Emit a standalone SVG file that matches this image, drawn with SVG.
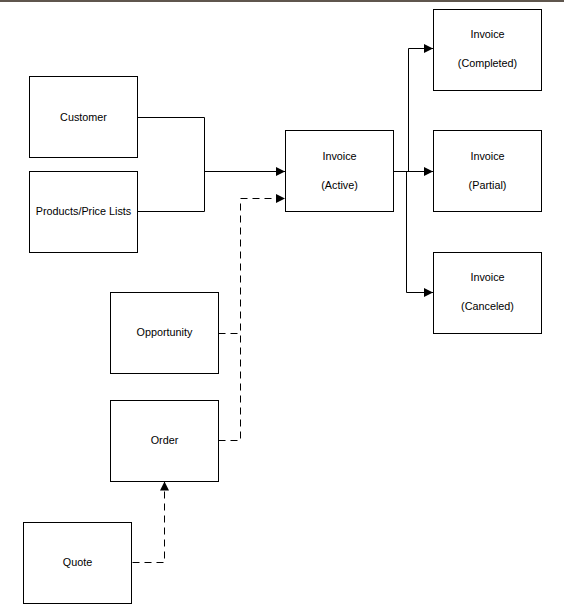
<svg xmlns="http://www.w3.org/2000/svg" width="564" height="615" viewBox="0 0 564 615">
<style>
.box{fill:#fff;stroke:#000;stroke-width:1}
.t{font-family:"Liberation Sans",Arial,sans-serif;font-size:10.8px;fill:#000;text-anchor:middle}
.c{fill:none;stroke:#000;stroke-width:1}
.d{stroke-dasharray:7,5}
</style>
<defs>
<marker id="ah" markerWidth="9" markerHeight="9" refX="9" refY="4.5" orient="auto" markerUnits="userSpaceOnUse">
<path d="M0,0 L9,4.5 L0,9 Z" fill="#000"/>
</marker>
</defs>
<rect width="564" height="615" fill="#fff"/>
<line x1="0" y1="1" x2="564" y2="1" stroke="#2a1e12" stroke-width="1.6"/>
<g id="connectors">
<polyline class="c" points="137.5,117.5 204.5,117.5 204.5,211.5 137.5,211.5"/>
<polyline class="c" points="204.5,171.5 285,171.5" marker-end="url(#ah)"/>
<polyline class="c d" points="218.5,333.5 240.5,333.5"/>
<polyline class="c d" points="218.5,440.5 240.5,440.5 240.5,198.5 285,198.5" marker-end="url(#ah)"/>
<polyline class="c d" points="132.5,562.5 164.5,562.5 164.5,481.5" marker-end="url(#ah)"/>
<polyline class="c" points="393.5,171.5 433,171.5" marker-end="url(#ah)"/>
<polyline class="c" points="408.5,171.5 408.5,48.5 433,48.5" marker-end="url(#ah)"/>
<polyline class="c" points="406.5,171.5 406.5,292.5 433,292.5" marker-end="url(#ah)"/>
</g>
<g id="customer"><rect class="box" x="29.5" y="76.5" width="108" height="81"/><text class="t" x="83.5" y="121">Customer</text></g>
<g id="products"><rect class="box" x="29.5" y="171.5" width="108" height="81"/><text class="t" x="83.5" y="215">Products/Price Lists</text></g>
<g id="active"><rect class="box" x="285.5" y="130.5" width="108" height="81"/><text class="t" x="339.5" y="160">Invoice</text><text class="t" x="339.5" y="189">(Active)</text></g>
<g id="completed"><rect class="box" x="433.5" y="9.5" width="108" height="81"/><text class="t" x="487.5" y="38">Invoice</text><text class="t" x="487.5" y="67">(Completed)</text></g>
<g id="partial"><rect class="box" x="433.5" y="130.5" width="108" height="81"/><text class="t" x="487.5" y="160">Invoice</text><text class="t" x="487.5" y="189">(Partial)</text></g>
<g id="canceled"><rect class="box" x="433.5" y="252.5" width="108" height="81"/><text class="t" x="487.5" y="281">Invoice</text><text class="t" x="487.5" y="310">(Canceled)</text></g>
<g id="opportunity"><rect class="box" x="110.5" y="292.5" width="108" height="81"/><text class="t" x="164.5" y="336">Opportunity</text></g>
<g id="order"><rect class="box" x="110.5" y="400.5" width="108" height="81"/><text class="t" x="164.5" y="444">Order</text></g>
<g id="quote"><rect class="box" x="23.5" y="522.5" width="108" height="81"/><text class="t" x="77.5" y="566">Quote</text></g>
</svg>
